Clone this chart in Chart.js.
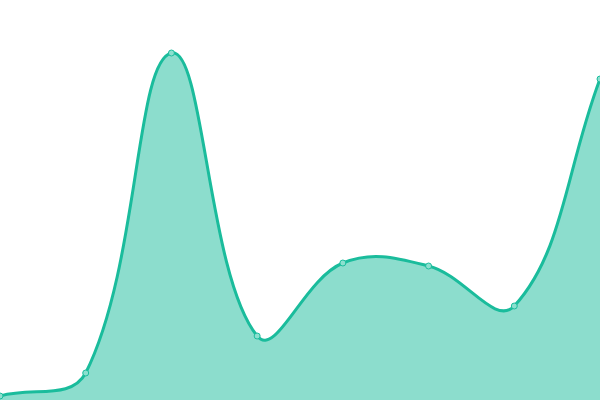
<!DOCTYPE html>
<html><head><meta charset="utf-8">
<script src="https://cdn.jsdelivr.net/npm/chart.js@4"></script>
<style>html,body{margin:0;padding:0;background:#fff}#wrap{width:600px;height:400px}</style>
</head><body><div id="wrap"><canvas id="c"></canvas></div>
<script>
const labels = ["A","B","C","D","E","F","G","H"];
const values = [1, 6.75, 86.75, 16, 34.25, 33.5, 23.5, 80.25];
new Chart(document.getElementById('c'), {
  type: 'line',
  data: { labels: labels, datasets: [{
    data: values,
    borderColor: '#1abc9c',
    backgroundColor: 'rgba(26,188,156,0.5)',
    pointBackgroundColor: 'rgba(140,224,207,1)',
    pointBorderColor: '#1abc9c',
    pointBorderWidth: 1,
    pointRadius: 3,
    borderWidth: 3,
    tension: 0.4,
    fill: 'origin'
  }]},
  options: {
    responsive: true, maintainAspectRatio: false, animation: false,
    layout: { padding: 0, autoPadding: false },
    plugins: { legend: { display: false }, tooltip: { enabled: false } },
    scales: {
      x: { display: false, offset: false },
      y: { display: false, min: 0, max: 100 }
    }
  }
});
</script></body></html>
